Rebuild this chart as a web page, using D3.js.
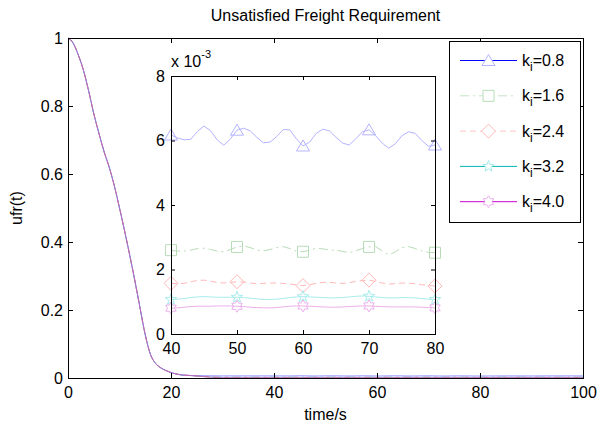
<!DOCTYPE html>
<html>
<head>
<meta charset="utf-8">
<script src="https://cdn.jsdelivr.net/npm/d3@7"></script>
<style>
  html, body { margin: 0; padding: 0; background: #fff; }
  svg { display: block; font-family: "Liberation Sans", Arial, Helvetica, sans-serif; }
</style>
</head>
<body>
<svg id="chart" width="599" height="427"></svg>
<script>
// ---------------- DATA ----------------
const titleText = "Unsatisfied Freight Requirement";
const xLabelText = "time/s";
const yLabelText = "ufr(t)";

const seriesNames = ["0.8", "1.6", "2.4", "3.2", "4.0"];

// shared initial decay (all five curves overlap), t = 0..24 s
const decayTime = [0,1,2,3,4,5,6,7,8,9,10,11,12,13,14,15,16,17,18,19,20,21,22,23,24];
const decayValues = [1.000,0.985,0.950,0.905,0.845,0.778,0.720,0.666,0.620,0.565,0.500,0.432,0.360,0.285,0.205,0.127,0.070,0.043,0.030,0.022,0.016,0.012,0.009,0.008,0.007];

// steady-state part (shown zoomed in the inset), t = 40..80 s, values in units of 1e-3
const insetTime = [40,41,42,43,44,45,46,47,48,49,50,51,52,53,54,55,56,57,58,59,60,61,62,63,64,65,66,67,68,69,70,71,72,73,74,75,76,77,78,79,80];
const ki08 = [6.17,6.08,6.02,6.04,6.28,6.45,6.30,6.02,5.85,6.05,6.32,6.38,6.30,6.10,5.93,5.95,6.12,6.34,6.33,6.05,5.83,5.95,6.22,6.35,6.30,6.10,5.92,5.86,6.05,6.27,6.33,6.15,5.92,5.76,5.90,6.15,6.27,6.22,6.00,5.82,5.86];
const ki16 = [2.60,2.57,2.57,2.60,2.65,2.66,2.62,2.57,2.55,2.62,2.70,2.73,2.68,2.60,2.58,2.62,2.68,2.71,2.65,2.57,2.55,2.60,2.66,2.64,2.60,2.60,2.56,2.52,2.58,2.65,2.70,2.71,2.58,2.45,2.55,2.68,2.71,2.65,2.58,2.53,2.52];
const ki24 = [1.57,1.56,1.57,1.62,1.66,1.67,1.64,1.60,1.58,1.60,1.62,1.61,1.58,1.56,1.57,1.58,1.58,1.57,1.55,1.52,1.50,1.53,1.57,1.60,1.60,1.58,1.57,1.59,1.63,1.66,1.67,1.63,1.58,1.55,1.56,1.58,1.58,1.56,1.53,1.50,1.49];
const ki32 = [1.07,1.08,1.10,1.13,1.15,1.16,1.15,1.14,1.14,1.14,1.14,1.13,1.11,1.09,1.07,1.07,1.08,1.10,1.13,1.15,1.16,1.15,1.14,1.13,1.12,1.12,1.13,1.15,1.17,1.18,1.17,1.15,1.13,1.12,1.12,1.13,1.13,1.12,1.10,1.08,1.07];
const ki40 = [0.80,0.81,0.83,0.85,0.86,0.86,0.86,0.87,0.87,0.87,0.86,0.85,0.83,0.82,0.81,0.81,0.82,0.84,0.86,0.87,0.87,0.86,0.85,0.84,0.83,0.83,0.84,0.85,0.86,0.87,0.87,0.86,0.85,0.84,0.84,0.84,0.84,0.84,0.83,0.82,0.81];

// a few extra steady-state samples outside the inset window (units of 1e-3)
const tailTime = [30, 35, 85, 90, 95, 100];
const tail08 = [6.1, 6.2, 6.1, 6.0, 6.2, 6.1];
const tail16 = [2.6, 2.6, 2.6, 2.6, 2.6, 2.6];
const tail24 = [1.6, 1.6, 1.6, 1.6, 1.6, 1.6];
const tail32 = [1.1, 1.1, 1.1, 1.1, 1.1, 1.1];
const tail40 = [0.85, 0.85, 0.85, 0.85, 0.85, 0.85];

const markerTimes = [40, 50, 60, 70, 80];

const mainXTicks = [0, 20, 40, 60, 80, 100];
const mainYTicks = [0, 0.2, 0.4, 0.6, 0.8, 1];
const mainYTickLabels = ["0", "0.2", "0.4", "0.6", "0.8", "1"];
const insetXTicks = [40, 50, 60, 70, 80];
const insetYTicks = [0, 2, 4, 6, 8];

// ---------------- STYLE ----------------
const insetValues = [ki08, ki16, ki24, ki32, ki40];
const tailValues = [tail08, tail16, tail24, tail32, tail40];
const lineColors   = ["#b4b4ff", "#b8dcb8", "#ffb8b8", "#a8ecec", "#ecb0ec"];
const mainColors   = ["#7070ff", "#80c080", "#e07070", "#60d0d0", "#c060c0"];
const legendColors = ["#0000ff", "#c4e4c4", "#ffc4c4", "#00b4b4", "#cc00cc"];
const dashes = [null, "9,4,2,4", "6,4", null, null];
const markerTypes = ["triangle", "square", "diamond", "pentagram", "hexagram"];

const FONT = 16;

const svg = d3.select("#chart");

// ---------------- MAIN AXES ----------------
const M = { left: 68, right: 583, top: 38, bottom: 378 };
const x = d3.scaleLinear().domain([0, 100]).range([M.left, M.right]);
const y = d3.scaleLinear().domain([0, 1]).range([M.bottom, M.top]);

svg.append("rect").attr("x", M.left).attr("y", M.top)
  .attr("width", M.right - M.left).attr("height", M.bottom - M.top).attr("fill", "#fff");

svg.append("defs").append("clipPath").attr("id", "clipMain")
  .append("rect").attr("x", M.left).attr("y", M.top - 1)
  .attr("width", M.right - M.left).attr("height", M.bottom - M.top + 1);

function mainSeries(i) {
  const pts = decayTime.map((t, j) => [t, decayValues[j]]);
  tailTime.filter(t => t < 40).forEach((t) => pts.push([t, tailValues[i][tailTime.indexOf(t)] / 1000]));
  insetTime.forEach((t, j) => pts.push([t, insetValues[i][j] / 1000]));
  tailTime.filter(t => t > 80).forEach((t) => pts.push([t, tailValues[i][tailTime.indexOf(t)] / 1000]));
  return pts;
}

const mainLine = d3.line().curve(d3.curveMonotoneX).x(d => x(d[0])).y(d => y(d[1]));
const gMain = svg.append("g").attr("clip-path", "url(#clipMain)");
[1, 3, 0, 2, 4].forEach(i => {
  gMain.append("path").datum(mainSeries(i))
    .attr("d", mainLine).attr("fill", "none")
    .attr("stroke", mainColors[i]).attr("stroke-width", 1)
    .attr("stroke-opacity", 0.75)
    .attr("stroke-dasharray", dashes[i]);
});

function styleAxis(g) {
  g.select(".domain").remove();
  g.selectAll(".tick line").attr("stroke", "#000");
  g.selectAll("text").attr("font-size", FONT).attr("fill", "#000")
    .attr("font-family", '"Liberation Sans", Arial, sans-serif');
}

svg.append("g").attr("transform", `translate(0,${M.bottom})`)
  .call(d3.axisBottom(x).tickValues(mainXTicks).tickSize(-5).tickPadding(9).tickFormat(d3.format("d")))
  .call(styleAxis);
svg.append("g").attr("transform", `translate(0,${M.top})`)
  .call(d3.axisTop(x).tickValues(mainXTicks).tickSize(-5).tickFormat(""))
  .call(styleAxis);
svg.append("g").attr("transform", `translate(${M.left},0)`)
  .call(d3.axisLeft(y).tickValues(mainYTicks).tickSize(-5).tickPadding(5)
    .tickFormat((d, i) => mainYTickLabels[i]))
  .call(styleAxis);
svg.append("g").attr("transform", `translate(${M.right},0)`)
  .call(d3.axisRight(y).tickValues(mainYTicks).tickSize(-5).tickFormat(""))
  .call(styleAxis);

svg.append("rect").attr("x", M.left + 0.5).attr("y", M.top + 0.5)
  .attr("width", M.right - M.left).attr("height", M.bottom - M.top)
  .attr("fill", "none").attr("stroke", "#000").attr("stroke-width", 1);

// title & labels
svg.append("text").attr("x", (M.left + M.right) / 2).attr("y", 21)
  .attr("text-anchor", "middle").attr("font-size", FONT).text(titleText);
svg.append("text").attr("x", (M.left + M.right) / 2).attr("y", 420)
  .attr("text-anchor", "middle").attr("font-size", FONT).text(xLabelText);
svg.append("text").attr("transform", `translate(22,${(M.top + M.bottom) / 2}) rotate(-90)`)
  .attr("text-anchor", "middle").attr("font-size", FONT).text(yLabelText);

// ---------------- MARKERS ----------------
function markerPath(type) {
  const p = d3.path();
  if (type === "triangle") {
    p.moveTo(0, -6); p.lineTo(6.5, 5); p.lineTo(-6.5, 5); p.closePath();
  } else if (type === "square") {
    p.rect(-5.5, -5.5, 11, 11);
  } else if (type === "diamond") {
    p.moveTo(0, -7); p.lineTo(7, 0); p.lineTo(0, 7); p.lineTo(-7, 0); p.closePath();
  } else if (type === "pentagram") {
    const R = 6, r = 2.4;
    for (let k = 0; k < 10; k++) {
      const a = -Math.PI / 2 + k * Math.PI / 5, rr = k % 2 ? r : R;
      const px = rr * Math.cos(a), py = rr * Math.sin(a);
      k ? p.lineTo(px, py) : p.moveTo(px, py);
    }
    p.closePath();
  } else if (type === "hexagram") {
    const R = 6, r = 3.5;
    for (let k = 0; k < 12; k++) {
      const a = -Math.PI / 2 + k * Math.PI / 6, rr = k % 2 ? r : R;
      const px = rr * Math.cos(a), py = rr * Math.sin(a);
      k ? p.lineTo(px, py) : p.moveTo(px, py);
    }
    p.closePath();
  }
  return p.toString();
}

// ---------------- INSET ----------------
const I = { left: 171, right: 435, top: 76, bottom: 334 };
const xi = d3.scaleLinear().domain([40, 80]).range([I.left, I.right]);
const yi = d3.scaleLinear().domain([0, 8]).range([I.bottom, I.top]);

svg.append("rect").attr("x", I.left).attr("y", I.top)
  .attr("width", I.right - I.left).attr("height", I.bottom - I.top).attr("fill", "#fff");

const insetLine = d3.line().x((d, j) => xi(insetTime[j])).y(d => yi(d));
const gIn = svg.append("g");
insetValues.forEach((vals, i) => {
  gIn.append("path").datum(vals).attr("d", insetLine)
    .attr("fill", "none").attr("stroke", lineColors[i]).attr("stroke-width", 1)
    .attr("stroke-dasharray", dashes[i]);
  gIn.selectAll(null).data(markerTimes).enter().append("path")
    .attr("transform", t => `translate(${xi(t)},${yi(vals[insetTime.indexOf(t)])})`)
    .attr("d", markerPath(markerTypes[i]))
    .attr("fill", "none").attr("stroke", lineColors[i]).attr("stroke-width", 1);
});

svg.append("g").attr("transform", `translate(0,${I.bottom})`)
  .call(d3.axisBottom(xi).tickValues(insetXTicks).tickSize(-4).tickPadding(9).tickFormat(d3.format("d")))
  .call(styleAxis);
svg.append("g").attr("transform", `translate(0,${I.top})`)
  .call(d3.axisTop(xi).tickValues(insetXTicks).tickSize(-4).tickFormat(""))
  .call(styleAxis);
svg.append("g").attr("transform", `translate(${I.left},0)`)
  .call(d3.axisLeft(yi).tickValues(insetYTicks).tickSize(-4).tickPadding(6).tickFormat(d3.format("d")))
  .call(styleAxis);
svg.append("g").attr("transform", `translate(${I.right},0)`)
  .call(d3.axisRight(yi).tickValues(insetYTicks).tickSize(-4).tickFormat(""))
  .call(styleAxis);
svg.append("rect").attr("x", I.left + 0.5).attr("y", I.top + 0.5)
  .attr("width", I.right - I.left).attr("height", I.bottom - I.top)
  .attr("fill", "none").attr("stroke", "#000");

// exponent label "x 10^-3"
const expText = svg.append("text").attr("x", I.left).attr("y", 67).attr("font-size", FONT);
expText.append("tspan").text("x 10");
expText.append("tspan").attr("dy", -9).attr("font-size", 11).text("-3");

// ---------------- LEGEND ----------------
const L = { left: 449, top: 41, right: 580, bottom: 222 };
svg.append("rect").attr("x", L.left + 0.5).attr("y", L.top + 0.5)
  .attr("width", L.right - L.left).attr("height", L.bottom - L.top)
  .attr("fill", "#fff").attr("stroke", "#000");
const rowY = d => L.top + 19 + d * 35.3;
seriesNames.forEach((name, i) => {
  const cy = rowY(i);
  svg.append("line").attr("x1", 460).attr("x2", 517).attr("y1", cy + 0.5).attr("y2", cy + 0.5)
    .attr("stroke", legendColors[i]).attr("stroke-width", 1)
    .attr("stroke-dasharray", dashes[i]);
  svg.append("path").attr("transform", `translate(488.5,${cy + 0.5})`)
    .attr("d", markerPath(markerTypes[i]))
    .attr("fill", "#fff").attr("stroke", lineColors[i]);
  const t = svg.append("text").attr("x", 522).attr("y", cy + 6).attr("font-size", FONT);
  t.append("tspan").text("k");
  t.append("tspan").attr("dy", 5).attr("font-size", 12).text("i");
  t.append("tspan").attr("dy", -5).text("=" + name);
});
</script>
</body>
</html>
